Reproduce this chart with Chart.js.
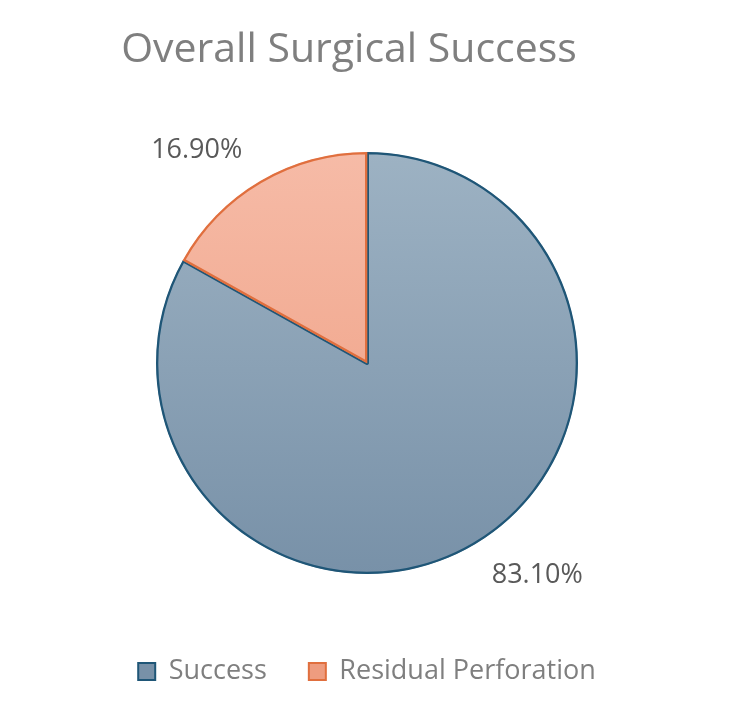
<!DOCTYPE html>
<html>
<head>
<meta charset="utf-8">
<script src="https://cdn.jsdelivr.net/npm/chart.js@4"></script>
<style>
  html, body { margin: 0; padding: 0; background: #ffffff; }
  #wrap { width: 750px; height: 717px; }
</style>
</head>
<body>
<div id="wrap"><canvas id="myChart" width="750" height="717"></canvas></div>
<script>
// chart data
const categories = ["Success", "Residual Perforation"];
const percentValues = [83.1, 16.9];
const valueLabels = ["83.10%", "16.90%"];
const chartTitle = "Overall Surgical Success";

// colours: gradient top -> bottom, plus outline
const fillTop = ["#9db2c3", "#f6bba7"];
const fillBottom = ["#7891a8", "#ee9c7f"];
const borderColors = ["#1f5677", "#e06f3e"];

function sliceFill(context) {
  const chart = context.chart;
  const area = chart.chartArea;
  const i = context.dataIndex;
  if (!area) {
    return fillTop[i];
  }
  const grad = chart.ctx.createLinearGradient(0, area.top, 0, area.bottom);
  grad.addColorStop(0, fillTop[i]);
  grad.addColorStop(1, fillBottom[i]);
  return grad;
}

// title sits a little left of the pie centre, so it is drawn here
const titlePlugin = {
  id: "titlePlugin",
  afterDraw(chart) {
    const ctx = chart.ctx;
    ctx.save();
    ctx.font = "41px 'Open Sans'";
    ctx.fillStyle = "#7f7f7f";
    ctx.textAlign = "center";
    ctx.textBaseline = "alphabetic";
    ctx.fillText(chartTitle, 349, 62);
    ctx.restore();
  },
};

// draws the percentage labels outside each slice
const outsideLabels = {
  id: "outsideLabels",
  afterDatasetsDraw(chart) {
    const ctx = chart.ctx;
    const meta = chart.getDatasetMeta(0);
    ctx.save();
    ctx.font = "27px 'Open Sans'";
    ctx.fillStyle = "#595959";
    ctx.textAlign = "center";
    ctx.textBaseline = "middle";
    for (let i = 0; i < meta.data.length; i++) {
      const arc = meta.data[i];
      const mid = (arc.startAngle + arc.endAngle) / 2 - 0.145;
      const dist = arc.outerRadius * 1.29;
      const x = arc.x + Math.cos(mid) * dist;
      const y = arc.y + Math.sin(mid) * dist;
      ctx.fillText(valueLabels[i], x, y);
    }
    ctx.restore();
  },
};

const data = {
  labels: categories,
  datasets: [
    {
      data: percentValues,
      backgroundColor: sliceFill,
      borderColor: borderColors,
      borderWidth: 2,
      borderAlign: "inner",
    },
  ],
};

const config = {
  type: "pie",
  data: data,
  plugins: [outsideLabels, titlePlugin],
  options: {
    responsive: false,
    animation: false,
    layout: {
      padding: { top: 152, bottom: 22, left: 0, right: 16 },
    },
    plugins: {
      title: { display: false },
      legend: {
        position: "bottom",
        title: {
          display: true,
          text: " ",
          font: { size: 10, lineHeight: 1.2 },
          padding: { top: 15, bottom: 15 },
        },
        labels: {
          color: "#7f7f7f",
          font: { family: "'Open Sans'", size: 27 },
          boxWidth: 17,
          boxHeight: 17,
          padding: 42,
        },
      },
      tooltip: { enabled: false },
    },
  },
};

const canvasChart = document.getElementById("myChart");
const myChart = new Chart(canvasChart, config);
</script>
</body>
</html>
